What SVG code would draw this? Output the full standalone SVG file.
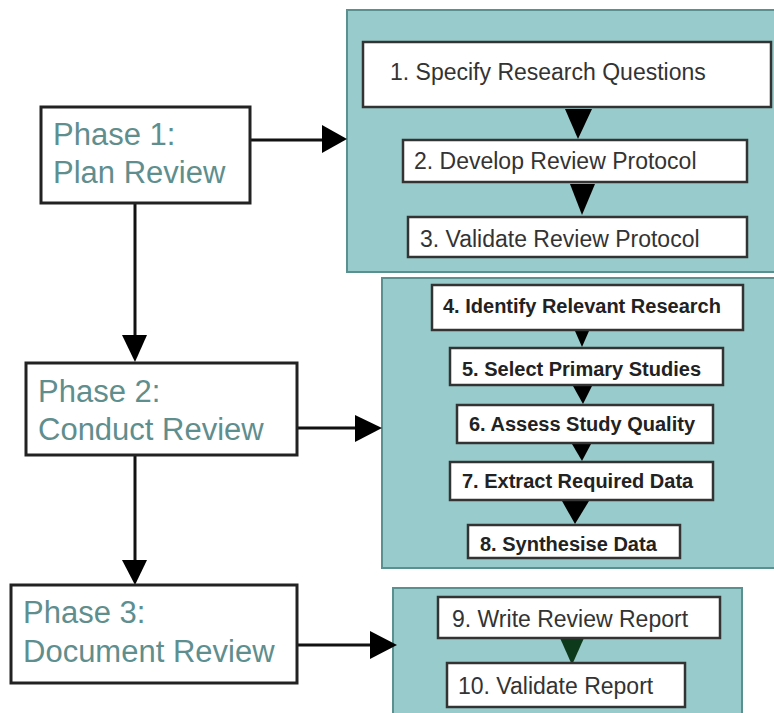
<svg xmlns="http://www.w3.org/2000/svg" width="774" height="713" viewBox="0 0 774 713">
<defs>
<style>
.phase{fill:#ffffff;stroke:#222;stroke-width:3}
.ptext{font-family:"Liberation Sans",Arial,sans-serif;font-size:31px;fill:#5f8e8e}
.panel{fill:#98cbcb;stroke:#5a9090;stroke-width:2}
.step{fill:#ffffff;stroke:#333;stroke-width:2.5}
.stext{font-family:"Liberation Sans",Arial,sans-serif;font-size:23px;fill:#333}
.btext{font-family:"Liberation Sans",Arial,sans-serif;font-size:20px;font-weight:bold;fill:#222}
.line{stroke:#111;stroke-width:3;fill:none}
.head{fill:#000}
</style>
</defs>
<rect width="774" height="713" fill="#ffffff"/>

<g id="panel1">
<rect class="panel" x="347" y="10" width="440" height="262"/>
</g>
<g id="panel2">
<rect class="panel" x="382" y="278" width="405" height="290"/>
</g>
<g id="panel3">
<rect class="panel" x="393" y="588" width="349" height="140"/>
</g>

<g id="connectors">
<line class="line" x1="250" y1="140" x2="324" y2="140"/>
<polygon class="head" points="322,125 347,139 322,153"/>
<line class="line" x1="135" y1="203" x2="135" y2="337"/>
<polygon class="head" points="122,335 147,335 135,362"/>
<line class="line" x1="297" y1="428" x2="357" y2="428"/>
<polygon class="head" points="355,415 382,428 355,442"/>
<line class="line" x1="135" y1="455" x2="135" y2="562"/>
<polygon class="head" points="122,560 147,560 135,585"/>
<line class="line" x1="297" y1="645" x2="372" y2="645"/>
<polygon class="head" points="370,631 397,645 370,659"/>
<polygon class="head" points="565,109 592,109 578,139"/>
<polygon class="head" points="570,184 595,184 582,215"/>
<polygon class="head" points="575,331 589,331 582,347"/>
<polygon class="head" points="573,386 592,386 583,404"/>
<polygon class="head" points="572,444 591,444 582,461"/>
<polygon class="head" points="562,501 589,501 575,524"/>
<polygon fill="#0e3a1c" points="560,638 584,638 572,665"/>
</g>

<g id="phase1">
<rect class="phase" x="41" y="107" width="209" height="96"/>
<text class="ptext" x="53" y="145">Phase 1:</text>
<text class="ptext" x="53" y="183">Plan Review</text>
</g>
<g id="phase2">
<rect class="phase" x="26" y="363" width="271" height="92"/>
<text class="ptext" x="38" y="402">Phase 2:</text>
<text class="ptext" x="38" y="440">Conduct Review</text>
</g>
<g id="phase3">
<rect class="phase" x="11" y="585" width="286" height="98"/>
<text class="ptext" x="23" y="623">Phase 3:</text>
<text class="ptext" x="23" y="662">Document Review</text>
</g>

<g id="step1">
<rect class="step" x="363" y="42" width="408" height="65"/>
<text class="stext" x="390" y="80">1. Specify Research Questions</text>
</g>
<g id="step2">
<rect class="step" x="403" y="140" width="344" height="42"/>
<text class="stext" x="414" y="169">2. Develop Review Protocol</text>
</g>
<g id="step3">
<rect class="step" x="408" y="217" width="339" height="40"/>
<text class="stext" x="420" y="247">3. Validate Review Protocol</text>
</g>
<g id="step4">
<rect class="step" x="432" y="285" width="311" height="45"/>
<text class="btext" x="443" y="313">4. Identify Relevant Research</text>
</g>
<g id="step5">
<rect class="step" x="450" y="348" width="273" height="37"/>
<text class="btext" x="462" y="376">5. Select Primary Studies</text>
</g>
<g id="step6">
<rect class="step" x="457" y="405" width="256" height="38"/>
<text class="btext" x="469" y="431">6. Assess Study Quality</text>
</g>
<g id="step7">
<rect class="step" x="450" y="462" width="263" height="38"/>
<text class="btext" x="462" y="488">7. Extract Required Data</text>
</g>
<g id="step8">
<rect class="step" x="468" y="525" width="212" height="33"/>
<text class="btext" x="480" y="551">8. Synthesise Data</text>
</g>
<g id="step9">
<rect class="step" x="438" y="597" width="282" height="41"/>
<text class="stext" x="452" y="627">9. Write Review Report</text>
</g>
<g id="step10">
<rect class="step" x="447" y="663" width="238" height="44"/>
<text class="stext" x="458" y="694">10. Validate Report</text>
</g>
</svg>
